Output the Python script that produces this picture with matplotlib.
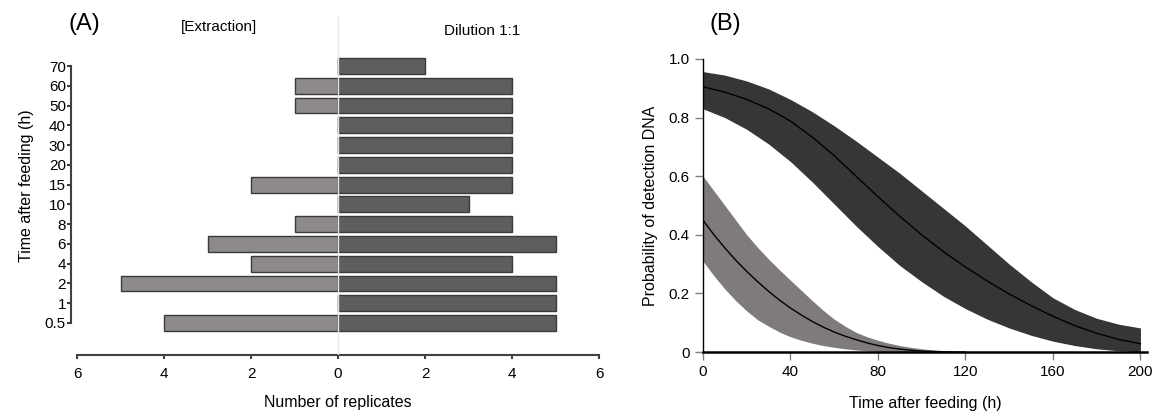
import matplotlib.pyplot as plt

plt.rcParams['font.family'] = ['Liberation Sans', 'DejaVu Sans']

# (A) replicates per time point
hours = ['0.5', '1', '2', '4', '6', '8', '10', '15', '20', '30', '40', '50', '60', '70']
extraction = [4, 0, 5, 2, 3, 1, 0, 2, 0, 0, 0, 1, 1, 0]
dilution = [5, 5, 5, 4, 5, 4, 3, 4, 4, 4, 4, 4, 4, 2]

dil_time = [0, 10, 20, 30, 40, 50, 60, 70, 80, 90, 100,
            110, 120, 130, 140, 150, 160, 170, 180, 190, 200]
dil_mean = [0.905, 0.887, 0.862, 0.83, 0.788, 0.733, 0.67, 0.60, 0.53, 0.463, 0.40,
            0.342, 0.29, 0.242, 0.198, 0.158, 0.122, 0.09, 0.064, 0.043, 0.028]
dil_high = [0.957, 0.945, 0.925, 0.898, 0.862, 0.82, 0.772, 0.72, 0.665, 0.61, 0.55,
            0.49, 0.43, 0.365, 0.30, 0.24, 0.185, 0.145, 0.115, 0.095, 0.082]
dil_low = [0.83, 0.80, 0.76, 0.71, 0.65, 0.58, 0.505, 0.43, 0.36, 0.295, 0.24,
           0.19, 0.148, 0.112, 0.082, 0.057, 0.037, 0.022, 0.011, 0.004, 0.001]

ext_time = [0, 5, 10, 15, 20, 25, 30, 35, 40, 45, 50, 55, 60,
            65, 70, 75, 80, 85, 90, 95, 100, 105, 110, 115, 120]
ext_mean = [0.45, 0.40, 0.355, 0.313, 0.275, 0.24, 0.207, 0.177, 0.15, 0.126, 0.104, 0.085, 0.068,
            0.054, 0.042, 0.031, 0.022, 0.015, 0.01, 0.006, 0.003, 0.002, 0.001, 0, 0]
ext_high = [0.60, 0.55, 0.50, 0.45, 0.40, 0.357, 0.317, 0.28, 0.245, 0.21, 0.175, 0.142, 0.112,
            0.088, 0.067, 0.052, 0.04, 0.03, 0.022, 0.016, 0.011, 0.007, 0.004, 0.002, 0]
ext_low = [0.31, 0.26, 0.215, 0.175, 0.14, 0.11, 0.088, 0.068, 0.052, 0.04, 0.03, 0.022, 0.016,
           0.011, 0.007, 0.004, 0.002, 0.001, 0, 0, 0, 0, 0, 0, 0]

W, H = 1161, 412
fig = plt.figure(figsize=(W / 100, H / 100), dpi=100)

def box(x0, y0, x1, y1):
    # pixel box (top-left origin) -> figure fraction
    return [x0 / W, (H - y1) / H, (x1 - x0) / W, (y1 - y0) / H]

# ---------- panel A ----------
axA = fig.add_axes(box(77, 17, 599, 355))
pos = list(range(len(hours)))
axA.barh(pos, [-v for v in extraction], height=0.8, color='#8e8a89',
         edgecolor='#3a3a3a', linewidth=1)
axA.barh(pos, dilution, height=0.8, color='#5f5e5e',
         edgecolor='#3a3a3a', linewidth=1)
axA.axvline(0, color='#e6e6e6', lw=1, zorder=5)
axA.set_xlim(-6, 6)
axA.set_ylim(-1.62, 15.48)
axA.set_yticks(pos)
axA.set_yticklabels(hours)
axA.set_xticks([-6, -4, -2, 0, 2, 4, 6])
axA.set_xticklabels(['6', '4', '2', '0', '2', '4', '6'])
for s in ['top', 'right']:
    axA.spines[s].set_visible(False)
axA.spines['left'].set_bounds(0, 13)
axA.spines['left'].set_position(('outward', 4))
axA.spines['bottom'].set_bounds(-6, 6)
for s in ['left', 'bottom']:
    axA.spines[s].set_color('#404040')
    axA.spines[s].set_linewidth(1.5)
axA.tick_params(axis='y', length=3, width=1.5, color='#404040', labelsize=11, pad=1)
axA.tick_params(axis='x', length=3, width=1.5, color='#404040', labelsize=11, pad=6)
axA.set_xlabel('Number of replicates', fontsize=11.5, labelpad=10)
axA.set_ylabel('Time after feeding (h)', fontsize=11.5, labelpad=8)

fig.text(84 / W, 1 - 24 / H, '(A)', fontsize=17, ha='center', va='center')
fig.text(219 / W, 1 - 27 / H, '[Extraction]', fontsize=11, ha='center', va='center')
fig.text(482 / W, 1 - 31 / H, 'Dilution 1:1', fontsize=11, ha='center', va='center')

# ---------- panel B ----------
axB = fig.add_axes(box(703, 59, 1147, 352))
axB.fill_between(ext_time, ext_low, ext_high, color='#7f7b7a', lw=0)
axB.plot(ext_time, ext_mean, color='black', lw=1)
axB.fill_between(dil_time, dil_low, dil_high, color='#383634', lw=0)
axB.plot(dil_time, dil_mean, color='black', lw=1)
axB.set_xlim(0, 203)
axB.set_ylim(0, 1.0)
axB.set_xticks([0, 40, 80, 120, 160, 200])
axB.set_yticks([0, 0.2, 0.4, 0.6, 0.8, 1.0])
axB.set_yticklabels(['0', '0.2', '0.4', '0.6', '0.8', '1.0'])
for s in ['top', 'right']:
    axB.spines[s].set_visible(False)
axB.spines['left'].set_linewidth(1)
axB.spines['bottom'].set_linewidth(1.8)
axB.tick_params(length=6, width=1, color='#808080', labelsize=11)
axB.set_xlabel('Time after feeding (h)', fontsize=11.5, labelpad=12)
axB.set_ylabel('Probability of detection DNA', fontsize=11.5, labelpad=8)

fig.text(725 / W, 1 - 24 / H, '(B)', fontsize=17, ha='center', va='center')

fig.savefig('out.png', dpi=100)
